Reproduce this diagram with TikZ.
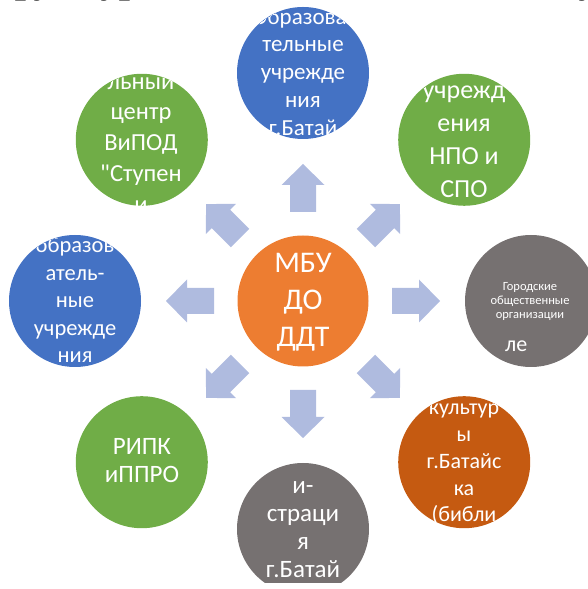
\documentclass[tikz,border=0pt]{standalone}
\usepackage{fontspec}
\setmainfont{Carlito}[Ligatures=TeXOff]
\newfontfamily\titlefont{Liberation Serif}
\usetikzlibrary{calc}
\definecolor{cblue}{HTML}{4472C4}
\definecolor{cgreen}{HTML}{70AD47}
\definecolor{corange}{HTML}{ED7D31}
\definecolor{cgray}{HTML}{767171}
\definecolor{cbrown}{HTML}{C55A11}
\definecolor{carrow}{HTML}{AFBBDF}
\tikzset{
  hub/.style={circle, fill=corange, minimum size=131pt, inner sep=0pt},
  sat/.style={circle, minimum size=132pt, inner sep=0pt},
  lbl/.style={text=white, align=center, inner sep=0pt, anchor=center},
  blockarrow/.style={fill=carrow},
}
\newcommand\fsz[2]{\fontsize{#1}{#2}\selectfont}
\begin{document}
\begin{tikzpicture}[x=1pt,y=1pt]
\useasboundingbox (0,0) rectangle (587,589);
% title (only the bottoms of the glyphs are visible)
\node[anchor=base west, inner sep=0pt, font=\titlefont\bfseries\itshape\fsz{40}{48}] (title) at (-40,596) {Структура взаимодействия с социумом};
% hub
\node[hub] (c) at (303,288) {};
% satellites
\node[sat, fill=cblue]  (n)  at ($(c)+(90:228pt)$) {};
\node[sat, fill=cgreen] (ne) at ($(c)+(45:228pt)$) {};
\node[sat, fill=cgray]  (e)  at ($(c)+(0:228pt)$) {};
\node[sat, fill=cbrown] (se) at ($(c)+(-45:228pt)$) {};
\node[sat, fill=cgray]  (s)  at ($(c)+(-90:228pt)$) {};
\node[sat, fill=cgreen] (sw) at ($(c)+(-135:228pt)$) {};
\node[sat, fill=cblue]  (w)  at ($(c)+(180:228pt)$) {};
\node[sat, fill=cgreen] (nw) at ($(c)+(135:228pt)$) {};
% block arrows from the hub towards the satellites
\foreach \a in {0,45,...,315}{
  \fill[blockarrow, shift={(c.center)}, rotate=\a]
    (89,-13) -- (116,-13) -- (116,-21.5) -- (137,0) -- (116,21.5) -- (116,13) -- (89,13) -- cycle;
}
% hub text
\node[lbl, font=\fsz{30}{37}] (ct) at (303,{589-302.6}) {\strut МБУ\\ДО\\ДДТ\strut};
% satellite texts, clipped to their circles
\begin{scope}
  \clip (n.center) circle (66pt);
  \node[lbl, font=\fsz{23}{27.75}] (nt) at (303,{589-74}) {\strut Образова-\\тельные\\учрежде\\ния\\г.Батай\strut};
\end{scope}
\begin{scope}
  \clip (nw.center) circle (66pt);
  \node[lbl, font=\fsz{24.5}{30.75}] (nwt) at (141,{589-144.4}) {\strut льный\\центр\\ВиПОД\\"Ступен\\и\strut};
\end{scope}
\begin{scope}
  \clip (ne.center) circle (66pt);
  \node[lbl, font=\fsz{26}{33.3}] (net) at (464,{589-141.3}) {\strut учрежд\\ения\\НПО и\\СПО\strut};
\end{scope}
\begin{scope}
  \clip (w.center) circle (66pt);
  \node[lbl, font=\fsz{22.5}{27.5}] (wt) at (75,{589-302.5}) {\strut образов\\атель-\\ные\\учрежде\\ния\strut};
\end{scope}
\begin{scope}
  \clip (e.center) circle (66pt);
  \node[lbl, font=\fsz{12.5}{14}] (et) at (530,{589-302.2}) {\strut Городские\\общественные\\организации\strut};
  \node[text=white, inner sep=0pt, anchor=base west, font=\fsz{22}{28}] (et2) at (505,{589-352}) {ле};
\end{scope}
\begin{scope}
  \clip (se.center) circle (66pt);
  \node[lbl, font=\fsz{22}{26.75}] (set) at (464,{589-463}) {\strut культур\\ы\\г.Батайс\\ка\\(библи\strut};
\end{scope}
\begin{scope}
  \clip (s.center) circle (66pt);
  \node[lbl, font=\fsz{25}{28}] (st) at (303,{589-530.4}) {\strut и-\\страци\\я\\г.Батай\strut};
\end{scope}
\begin{scope}
  \clip (sw.center) circle (66pt);
  \node[lbl, font=\fsz{25}{28}] (swt) at (142,{589-463.4}) {\strut РИПК\\иППРО\strut};
\end{scope}
% the picture ends in a thin white strip at the bottom
\fill[white] (0,0) rectangle (587,6);
\end{tikzpicture}
\end{document}
